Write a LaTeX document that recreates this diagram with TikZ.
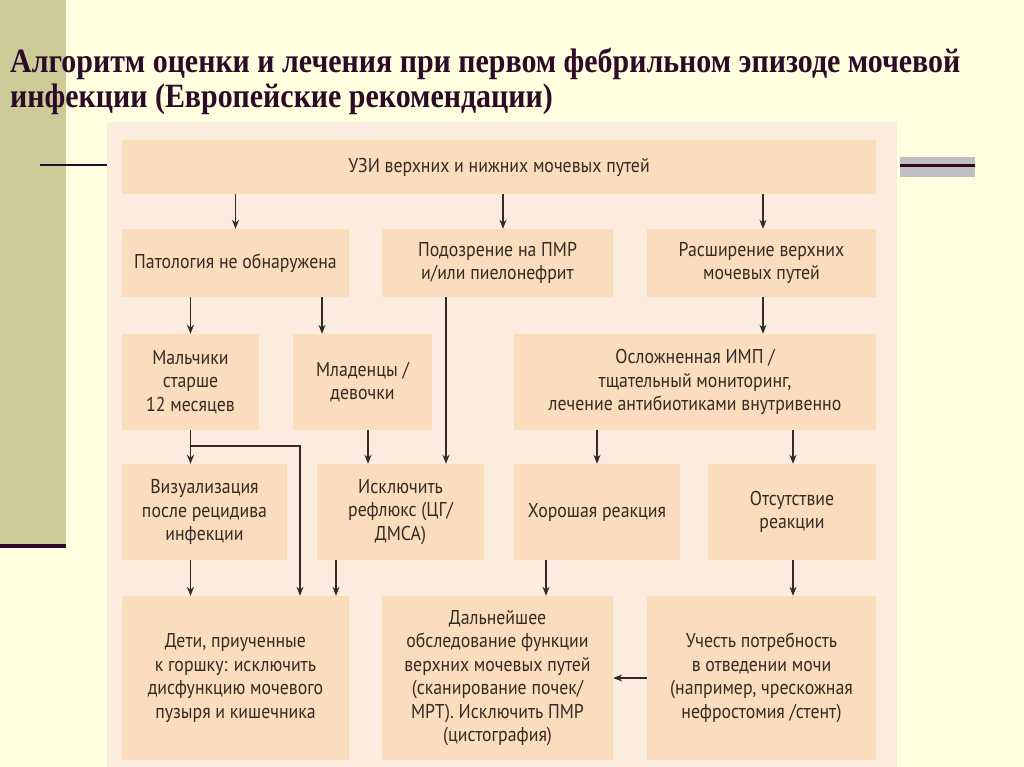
\documentclass[tikz,border=0pt]{standalone}
\usepackage{fontspec}
\setmainfont[FakeStretch=0.89]{PT Sans}
\newfontfamily\titlefont[FakeStretch=0.88]{Liberation Serif}
\usetikzlibrary{arrows.meta,positioning}
\definecolor{paper}{RGB}{255,255,224}
\definecolor{olive}{RGB}{204,204,153}
\definecolor{plum}{RGB}{45,10,40}
\definecolor{panel}{RGB}{252,236,222}
\definecolor{peach}{RGB}{250,221,188}
\definecolor{ink}{RGB}{52,42,38}

\tikzset{
  stepbox/.style={fill=peach,inner sep=2pt,align=center,text=ink,
    font=\fontsize{20}{23.5}\selectfont},
  arr/.style={-{Stealth[length=9pt,width=7pt]},line width=1.4pt,draw=ink},
}

\begin{document}
\begin{tikzpicture}[x=1pt,y=-1pt]
\useasboundingbox (0,0) rectangle (1024,767);
% slide background
\fill[paper] (0,0) rectangle (1024,767);
\fill[olive] (0,0) rectangle (66,548);
\draw[plum,line width=4pt] (0,546) -- (66,546);
\draw[plum,line width=2pt] (40,165) -- (107,165);
\fill[black!25] (900,157) rectangle (975,177);
\draw[plum,line width=3pt] (900,166) -- (975,166);
% title
\node[anchor=west,text=plum,align=left,inner sep=0pt,
  font=\titlefont\bfseries\fontsize{34}{35}\selectfont] (title) at (10,81)
  {Алгоритм оценки и лечения при первом фебрильном эпизоде мочевой\\
   инфекции (Европейские рекомендации)};
% panel
\fill[panel] (107,122) rectangle (897,767);

% boxes
\node[stepbox,minimum width=754pt,minimum height=54pt] (usi) at (499,167) {УЗИ верхних и нижних мочевых путей};
\node[stepbox,minimum width=227pt,minimum height=68pt] (pat) at (235.5,263) {Патология не обнаружена};
\node[stepbox,minimum width=231pt,minimum height=68pt] (susp) at (497.5,263) {Подозрение на ПМР\\и/или пиелонефрит};
\node[stepbox,minimum width=229pt,minimum height=68pt] (dil) at (761.5,263) {Расширение верхних\\мочевых путей};
\node[stepbox,minimum width=137pt,minimum height=96pt] (boys) at (190.5,382) {Мальчики\\старше\\12 месяцев};
\node[stepbox,minimum width=139pt,minimum height=96pt] (inf) at (362.5,382) {Младенцы /\\девочки};
\node[stepbox,minimum width=362pt,minimum height=96pt] (compl) at (695,382) {Осложненная ИМП /\\тщательный мониторинг,\\лечение антибиотиками внутривенно};
\node[stepbox,minimum width=165pt,minimum height=96pt] (vis) at (204.5,512) {Визуализация\\после рецидива\\инфекции};
\node[stepbox,minimum width=167pt,minimum height=96pt] (excl) at (400.5,512) {Исключить\\рефлюкс (ЦГ/\\ДМСА)};
\node[stepbox,minimum width=166pt,minimum height=96pt] (good) at (597,512) {Хорошая реакция};
\node[stepbox,minimum width=168pt,minimum height=96pt] (none) at (792,512) {Отсутствие\\реакции};
\node[stepbox,minimum width=227pt,minimum height=164pt] (kids) at (235.5,678) {Дети, приученные\\к горшку: исключить\\дисфункцию мочевого\\пузыря и кишечника};
\node[stepbox,minimum width=231pt,minimum height=164pt] (further) at (497.5,678) {Дальнейшее\\обследование функции\\верхних мочевых путей\\(сканирование почек/\\МРТ). Исключить ПМР\\(цистография)};
\node[stepbox,minimum width=229pt,minimum height=164pt] (urine) at (761.5,678) {Учесть потребность\\в отведении мочи\\(например, чрескожная\\нефростомия /стент)};

% arrow columns
\coordinate (xa) at (503,0);
\coordinate (xb) at (763,0);
\coordinate (xc) at (322,0);
\coordinate (xd) at (446,0);
\coordinate (xe) at (368,0);
\coordinate (xf) at (300,0);
\coordinate (xg) at (336,0);
\coordinate (xh) at (546,0);
\coordinate (xi) at (793,0);
\coordinate (xj) at (597,0);
\coordinate (br) at (0,446);

% connectors
\draw[arr] (usi.south -| pat) -- (pat.north);
\draw[arr] (usi.south -| xa) -- (susp.north -| xa);
\draw[arr] (usi.south -| xb) -- (dil.north -| xb);
\draw[arr] (pat.south -| boys) -- (boys.north);
\draw[arr] (pat.south -| xc) -- (inf.north -| xc);
\draw[arr] (susp.south -| xd) -- (excl.north -| xd);
\draw[arr] (dil.south -| xb) -- (compl.north -| xb);
\draw[arr] (boys.south) -- (vis.north -| boys);
\draw[arr] (br -| boys) -| (kids.north -| xf);
\draw[arr] (inf.south -| xe) -- (excl.north -| xe);
\draw[arr] (compl.south -| xj) -- (good.north -| xj);
\draw[arr] (compl.south -| xi) -- (none.north -| xi);
\draw[arr] (vis.south -| boys) -- (kids.north -| boys);
\draw[arr] (excl.south -| xg) -- (kids.north -| xg);
\draw[arr] (good.south -| xh) -- (further.north -| xh);
\draw[arr] (none.south -| xi) -- (urine.north -| xi);
\draw[arr] (urine.west) -- (further.east);
\end{tikzpicture}
\end{document}
